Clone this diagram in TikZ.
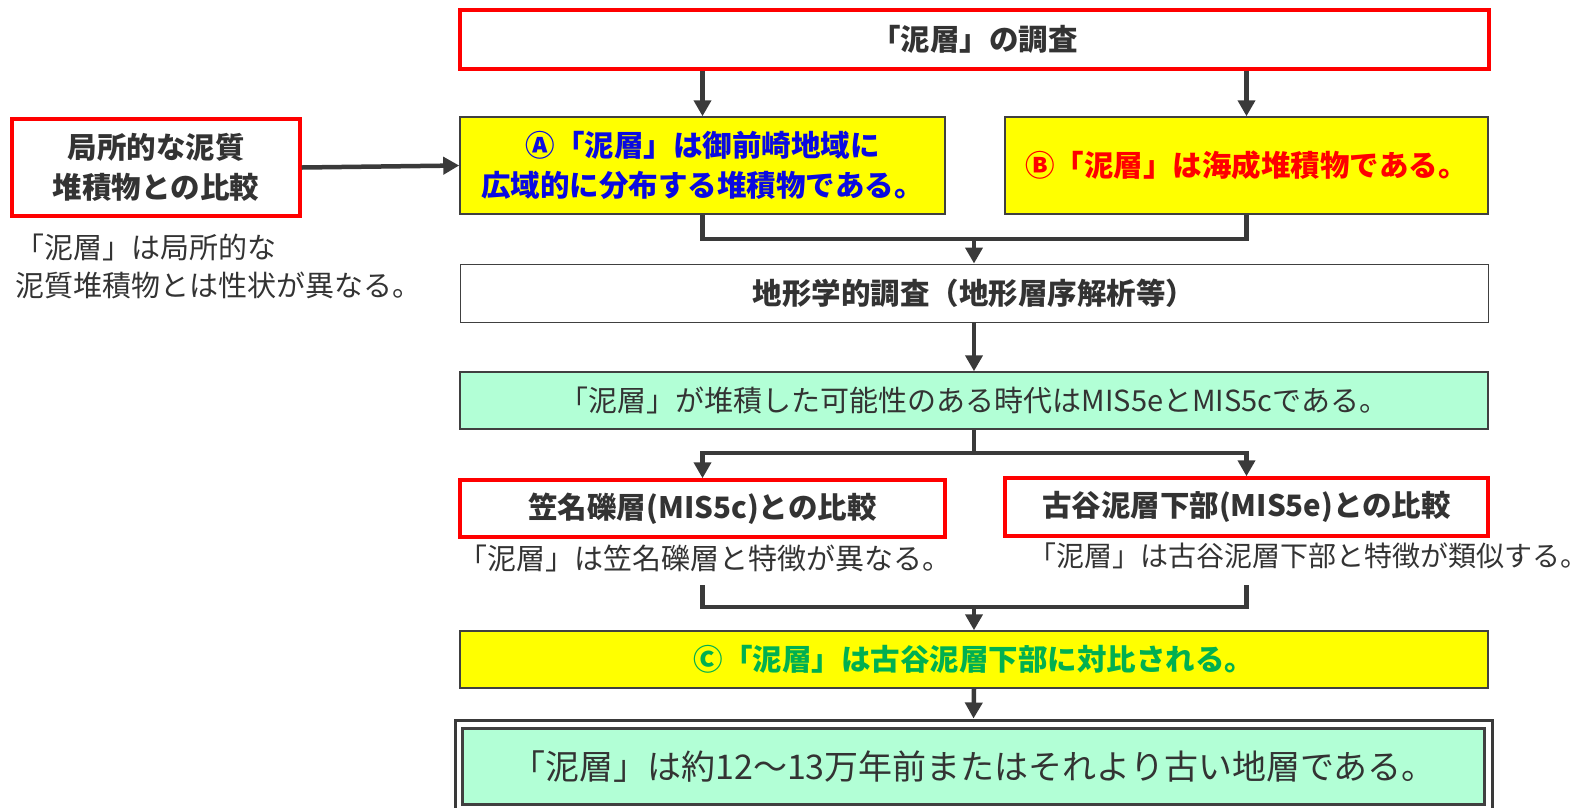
\documentclass[tikz,border=0pt]{standalone}
\usepackage{fontspec}
\setmainfont{Noto Sans CJK JP}
\usepackage{tikz}
\usetikzlibrary{arrows.meta}

\definecolor{boxred}{RGB}{255,0,0}
\definecolor{edge}{RGB}{64,64,64}
\definecolor{arrowc}{RGB}{58,58,58}
\definecolor{boxyel}{RGB}{255,255,0}
\definecolor{boxgrn}{RGB}{178,255,214}
\definecolor{ink}{RGB}{51,51,51}
\definecolor{ablue}{RGB}{10,10,225}
\definecolor{cgreen}{RGB}{0,176,80}
\newcommand\headfont{\fontsize{29.5}{40}\selectfont\bfseries}
\newcommand\notefont{\fontsize{29}{38}\selectfont}
\newcommand\bigfont{\fontsize{34}{40}\selectfont}

\begin{document}
\begin{tikzpicture}[x=1pt, y=-1pt, redbox/.style={draw=boxred, line width=3.5pt, fill=white, text=ink, font=\headfont, inner sep=0pt, align=center}, yelbox/.style={draw=edge, line width=1.5pt, fill=boxyel, font=\headfont, inner sep=0pt, align=center}, plain/.style={draw=edge, line width=1pt, fill=white, text=ink, font=\headfont, inner sep=0pt}, grnbox/.style={draw=edge, line width=1.5pt, fill=boxgrn, text=ink, font=\notefont, inner sep=0pt}, note/.style={text=ink, font=\notefont, inner sep=0pt, align=left}, ln/.style={draw=arrowc, line width=4.5pt}, n/.style={ln, -{Triangle[width=17pt,length=16pt]}}]
            \useasboundingbox (0,0) rectangle (1596,807);
            % nodes
            \node[redbox, minimum width=1029pt, minimum height=59pt] (top) at (974.5,39.5) {「泥層」の調査};
            \node[yelbox, text=ablue, minimum width=485pt, minimum height=97pt] (a) at (702.5,165.5) {Ⓐ「泥層」は御前崎地域に\\広域的に分布する堆積物である。};
            \node[yelbox, text=boxred, minimum width=483pt, minimum height=97pt] (b) at (1246.5,165.5) {Ⓑ「泥層」は海成堆積物である。};
            \node[redbox, minimum width=288pt, minimum height=97pt] (loc) at (156,167.5) {局所的な泥質\\堆積物との比較};
            \node[note, anchor=west] (locnote) at (15,266) {「泥層」は局所的な\\泥質堆積物とは性状が異なる。};
            \node[plain, minimum width=1028pt, minimum height=58pt] (geo) at (974,293) {地形学的調査（地形層序解析等）};
            \node[grnbox, minimum width=1028pt, minimum height=57pt] (age) at (974,400.5) {「泥層」が堆積した可能性のある時代はMIS5eとMIS5cである。};
            \node[redbox, minimum width=485pt, minimum height=57pt] (kas) at (702.5,508.5) {笠名礫層(MIS5c)との比較};
            \node[redbox, minimum width=483pt, minimum height=58pt] (fur) at (1246.5,507) {古谷泥層下部(MIS5e)との比較};
            \node[note, anchor=west] (kasnote) at (458,558) {「泥層」は笠名礫層と特徴が異なる。};
            \node[note, anchor=west, font=\fontsize{28}{38}\selectfont] (furnote) at (1028,556) {「泥層」は古谷泥層下部と特徴が類似する。};
            \node[yelbox, text=cgreen, minimum width=1028pt, minimum height=57pt] (c) at (974,659.5) {Ⓒ「泥層」は古谷泥層下部に対比される。};
            \node[draw=arrowc, line width=3pt, fill=white, minimum width=1037pt, minimum height=100pt] (resout) at (973.5,770) {};
            \node[grnbox, line width=3pt, font=\bigfont, minimum width=1022pt, minimum height=76pt] (res) at (973.5,766.5) {「泥層」は約12～13万年前またはそれより古い地層である。};
            \coordinate (m1) at (974,239);
            \coordinate (m2) at (974,453);
            \coordinate (k1) at (702.5,585);
            \coordinate (f1) at (1246.5,585);
            \coordinate (m3) at (974,607);
            % edges
            \draw [n] (top.south -| a) -- (a.north);
            \draw [n] (top.south -| b) -- (b.north);
            \draw [n] (loc.east) -- (a.west);
            \draw [ln] (a.south) |- (m1) -| (b.south);
            \draw [n] (m1) -- (geo.north);
            \draw [n] (geo.south) -- (age.north);
            \draw [ln] (age.south) -- (m2);
            \draw [n] (m2) -| (kas.north);
            \draw [n] (m2) -| (fur.north);
            \draw [ln] (k1) |- (m3) -| (f1);
            \draw [n] (m3) -- (c.north);
            \draw [n] (c.south) -- (resout.north);
        \end{tikzpicture}
\end{document}
